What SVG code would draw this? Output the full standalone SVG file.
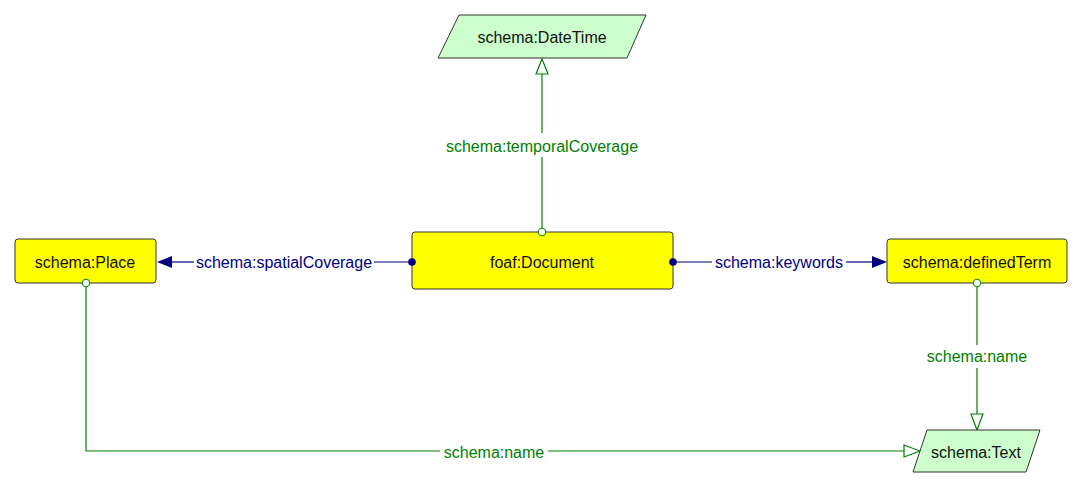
<svg xmlns="http://www.w3.org/2000/svg" width="1082" height="489" viewBox="0 0 1082 489">
<style>
.cls{fill:#ffff00;stroke:#333333;stroke-width:1}
.lit{fill:#ccffcc;stroke:#333333;stroke-width:1}
.t{font-family:"Liberation Sans",Arial,sans-serif;font-size:16px;fill:#111111;text-anchor:middle;dominant-baseline:central}
.ob{stroke:#000080;stroke-width:1.2;fill:none}
.dp{stroke:#008000;stroke-width:1.2;fill:none}
.lo{font-family:"Liberation Sans",Arial,sans-serif;font-size:16px;fill:#000080;text-anchor:middle;dominant-baseline:central}
.ld{font-family:"Liberation Sans",Arial,sans-serif;font-size:16px;fill:#008000;text-anchor:middle;dominant-baseline:central}
.dot{fill:#000080}
.circ{fill:#ffffff;stroke:#008000;stroke-width:1}
.fa{fill:#000080}
.ha{fill:#ffffff;stroke:#008000;stroke-width:1.2}
</style>
<rect width="1082" height="489" fill="#ffffff"/>
<g id="connectors">
  <g id="e-temporal">
    <line class="dp" x1="542" y1="228" x2="542" y2="157"/>
    <line class="dp" x1="542" y1="133" x2="542" y2="74"/>
    <polygon class="ha" points="542,59 536,74 548,74"/>
    <text class="ld" x="542" y="146">schema:temporalCoverage</text>
  </g>
  <g id="e-spatial">
    <line class="ob" x1="412" y1="262" x2="374" y2="262"/>
    <line class="ob" x1="194" y1="262" x2="172" y2="262"/>
    <polygon class="fa" points="157,262 172,256 172,268"/>
    <text class="lo" x="284" y="262">schema:spatialCoverage</text>
  </g>
  <g id="e-keywords">
    <line class="ob" x1="673" y1="262" x2="712" y2="262"/>
    <line class="ob" x1="846" y1="262" x2="872" y2="262"/>
    <polygon class="fa" points="887,262 872,256 872,268"/>
    <text class="lo" x="779" y="262">schema:keywords</text>
  </g>
  <g id="e-name-term">
    <line class="dp" x1="977" y1="287" x2="977" y2="345"/>
    <line class="dp" x1="977" y1="368" x2="977" y2="414"/>
    <polygon class="ha" points="977,430 971,414 983,414"/>
    <text class="ld" x="977" y="356">schema:name</text>
  </g>
  <g id="e-name-place">
    <polyline class="dp" points="86,287 86,451 440,451"/>
    <line class="dp" x1="548" y1="451" x2="904" y2="451"/>
    <polygon class="ha" points="920,451 904,445 904,457"/>
    <text class="ld" x="494" y="452">schema:name</text>
  </g>
</g>
<g id="n-datetime">
  <polygon class="lit" points="459,15 646,15 627,58 438,58"/>
  <text class="t" x="542" y="37">schema:DateTime</text>
</g>
<g id="n-document">
  <rect class="cls" x="412" y="232" width="261" height="57" rx="3"/>
  <text class="t" x="542" y="262">foaf:Document</text>
  <circle class="dot" cx="412" cy="262" r="3.8"/>
  <circle class="dot" cx="673" cy="262" r="3.8"/>
  <circle class="circ" cx="542" cy="232" r="3.8"/>
</g>
<g id="n-place">
  <rect class="cls" x="15" y="239" width="141" height="44" rx="3"/>
  <text class="t" x="85" y="262">schema:Place</text>
  <circle class="circ" cx="86" cy="283" r="3.8"/>
</g>
<g id="n-definedterm">
  <rect class="cls" x="887" y="239" width="180" height="44" rx="3"/>
  <text class="t" x="977" y="262">schema:definedTerm</text>
  <circle class="circ" cx="977" cy="283" r="3.8"/>
</g>
<g id="n-text">
  <polygon class="lit" points="927,430 1040,430 1026,472 913,472"/>
  <text class="t" x="976" y="452">schema:Text</text>
</g>
</svg>
